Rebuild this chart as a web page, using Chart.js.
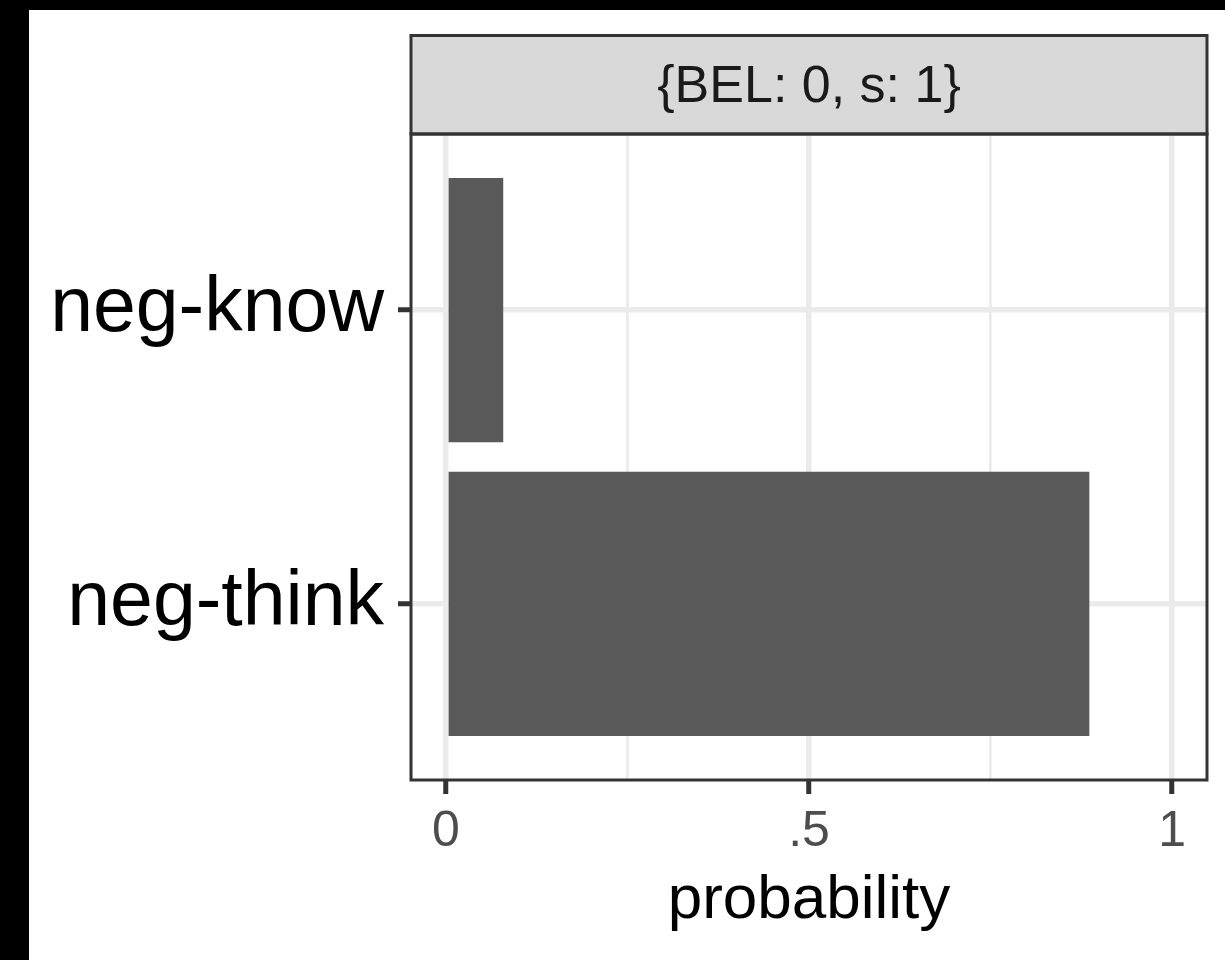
<!DOCTYPE html>
<html>
<head>
<meta charset="utf-8">
<script src="https://cdn.jsdelivr.net/npm/chart.js@4"></script>
<style>
  html, body { margin: 0; background: #000; }
  #wrap { position: absolute; left: 29px; top: 10px; width: 1196px; height: 950px; background: #fff; }
</style>
</head>
<body>
<div id="wrap"><canvas id="probChart" width="1196" height="950"></canvas></div>
<script>
const categories = ['neg-think', 'neg-know'];
const positions = [1, 2];
const probabilities = [0.886, 0.079];
const xTicks = [0, 0.25, 0.5, 0.75, 1];
const xTickLabels = ['0', '', '.5', '', '1'];
const stripLabel = '{BEL: 0, s: 1}';
const FONT = '"Liberation Sans", Arial, Helvetica, sans-serif';

// facet strip on top + panel border, drawn like ggplot's theme_bw
const facetStrip = {
  id: 'facetStrip',
  afterDraw(chart) {
    const {ctx, chartArea: a} = chart;
    ctx.save();
    ctx.fillStyle = '#d9d9d9';
    ctx.fillRect(a.left, 24, a.right - a.left, a.top - 24);
    ctx.strokeStyle = '#333333';
    ctx.lineWidth = 3;
    ctx.strokeRect(a.left, 25.5, a.right - a.left, a.top - 25.5);
    ctx.strokeRect(a.left, a.top, a.right - a.left, a.bottom - a.top);
    ctx.fillStyle = '#1a1a1a';
    ctx.font = '52px ' + FONT;
    ctx.textAlign = 'center';
    ctx.textBaseline = 'alphabetic';
    ctx.fillText(stripLabel, (a.left + a.right) / 2, 92);
    ctx.restore();
  }
};

new Chart(document.getElementById('probChart'), {
  type: 'bar',
  data: {
    datasets: [{
      data: positions.map((p, i) => ({x: probabilities[i], y: p})),
      backgroundColor: '#595959',
      barPercentage: 0.9,
      categoryPercentage: 1
    }]
  },
  options: {
    indexAxis: 'y',
    responsive: false,
    animation: false,
    layout: {padding: {top: 124, right: 18, bottom: 0, left: 0}},
    plugins: {legend: {display: false}, tooltip: {enabled: false}},
    scales: {
      x: {
        type: 'linear',
        min: -0.048,
        max: 1.048,
        afterBuildTicks: axis => { axis.ticks = xTicks.map(v => ({value: v})); },
        afterFit: axis => { axis.height = 180; },
        border: {display: false},
        grid: {
          color: '#ebebeb',
          lineWidth: c => c.index % 2 === 0 ? 5.5 : 2.7,
          tickColor: c => c.index % 2 === 0 ? '#333333' : 'rgba(0,0,0,0)',
          tickLength: 14,
          tickWidth: 5
        },
        ticks: {
          color: '#4d4d4d',
          font: {size: 50, family: FONT},
          padding: 8,
          maxRotation: 0,
          autoSkip: false,
          callback: (v, i) => xTickLabels[i]
        },
        title: {
          display: true,
          text: 'probability',
          color: '#000000',
          font: {size: 62, family: FONT},
          padding: {top: 0, bottom: 22}
        }
      },
      y: {
        type: 'linear',
        min: 0.4,
        max: 2.6,
        offset: false,
        afterBuildTicks: axis => { axis.ticks = positions.map(v => ({value: v})); },
        afterFit: axis => { axis.width = 382; },
        border: {display: false},
        grid: {
          offset: false,
          color: '#ebebeb',
          lineWidth: 5.5,
          tickColor: '#333333',
          tickLength: 13,
          tickWidth: 5
        },
        ticks: {
          color: '#000000',
          font: {size: 77, family: FONT},
          padding: 14,
          autoSkip: false,
          callback: v => categories[positions.indexOf(v)]
        }
      }
    }
  },
  plugins: [facetStrip]
});
</script>
</body>
</html>
